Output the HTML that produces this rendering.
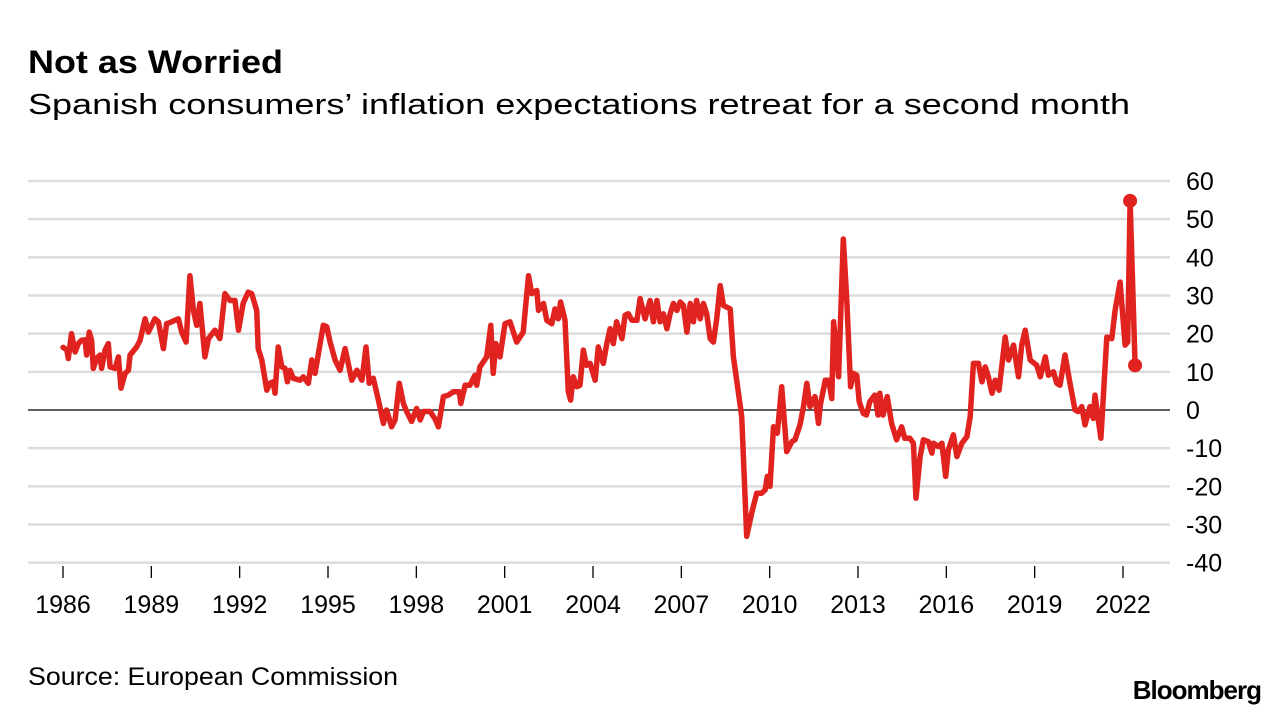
<!DOCTYPE html>
<html><head><meta charset="utf-8">
<style>
html,body{margin:0;padding:0;background:#fff;}
body{width:1288px;height:716px;overflow:hidden;font-family:"Liberation Sans",Arial,sans-serif;}
svg text{font-family:"Liberation Sans",Arial,sans-serif;}
</style></head>
<body>
<svg id="chart" width="1288" height="716" xmlns="http://www.w3.org/2000/svg">
<text x="28" y="73" font-size="32" font-weight="bold" fill="#000" textLength="255" lengthAdjust="spacingAndGlyphs">Not as Worried</text>
<text x="28" y="114" font-size="29" fill="#000" textLength="1102" lengthAdjust="spacingAndGlyphs">Spanish consumers’ inflation expectations retreat for a second month</text>
<g id="grid"></g>
<g id="yaxis"></g>
<g id="xaxis"></g>
<g id="series"></g>
<text x="28" y="685" font-size="25" fill="#000" textLength="370" lengthAdjust="spacingAndGlyphs">Source: European Commission</text>
<text x="1261" y="699" font-size="26" font-weight="bold" fill="#000" text-anchor="end" letter-spacing="-1">Bloomberg</text>
</svg>
<script>
const yTicks = [60,50,40,30,20,10,0,-10,-20,-30,-40];
const xTickYears = [1986,1989,1992,1995,1998,2001,2004,2007,2010,2013,2016,2019,2022];
const years = [1986.0,1986.13,1986.18,1986.29,1986.41,1986.52,1986.63,1986.75,1986.8,1986.89,1986.97,1987.03,1987.14,1987.26,1987.31,1987.43,1987.54,1987.6,1987.77,1987.88,1987.97,1988.11,1988.22,1988.28,1988.5,1988.62,1988.79,1988.9,1989.12,1989.24,1989.41,1989.52,1989.69,1989.8,1989.92,1990.03,1990.18,1990.31,1990.43,1990.54,1990.65,1990.82,1990.94,1991.16,1991.33,1991.5,1991.67,1991.84,1991.96,1992.12,1992.29,1992.41,1992.58,1992.63,1992.75,1992.92,1993.03,1993.14,1993.2,1993.31,1993.43,1993.54,1993.62,1993.71,1993.82,1994.05,1994.16,1994.33,1994.45,1994.56,1994.84,1994.96,1995.07,1995.24,1995.41,1995.58,1995.81,1995.98,1996.15,1996.29,1996.4,1996.54,1996.71,1996.88,1996.99,1997.16,1997.28,1997.42,1997.56,1997.67,1997.84,1998.01,1998.13,1998.24,1998.47,1998.64,1998.75,1998.92,1999.09,1999.26,1999.46,1999.51,1999.66,1999.82,1999.99,2000.05,2000.16,2000.39,2000.53,2000.61,2000.7,2000.84,2001.01,2001.18,2001.41,2001.63,2001.81,2001.92,2002.09,2002.15,2002.32,2002.43,2002.6,2002.71,2002.82,2002.9,2003.05,2003.16,2003.24,2003.33,2003.45,2003.56,2003.67,2003.78,2003.9,2004.07,2004.18,2004.35,2004.47,2004.58,2004.69,2004.8,2004.98,2005.09,2005.2,2005.32,2005.49,2005.6,2005.77,2005.94,2006.05,2006.17,2006.28,2006.39,2006.51,2006.62,2006.73,2006.85,2006.96,2007.07,2007.19,2007.3,2007.41,2007.52,2007.64,2007.75,2007.86,2007.98,2008.09,2008.2,2008.32,2008.43,2008.66,2008.77,2008.94,2009.05,2009.22,2009.39,2009.56,2009.73,2009.85,2009.92,2010.01,2010.13,2010.26,2010.41,2010.58,2010.75,2010.86,2011.03,2011.15,2011.26,2011.37,2011.54,2011.66,2011.72,2011.89,2012.0,2012.11,2012.17,2012.34,2012.5,2012.62,2012.75,2012.84,2012.96,2013.04,2013.18,2013.29,2013.4,2013.57,2013.68,2013.74,2013.85,2013.99,2014.14,2014.31,2014.48,2014.59,2014.76,2014.88,2014.97,2015.11,2015.22,2015.39,2015.51,2015.56,2015.73,2015.85,2015.98,2016.07,2016.24,2016.36,2016.53,2016.7,2016.81,2016.92,2017.09,2017.21,2017.32,2017.43,2017.55,2017.66,2017.79,2018.0,2018.11,2018.28,2018.45,2018.56,2018.68,2018.85,2019.07,2019.19,2019.36,2019.47,2019.64,2019.75,2019.86,2020.03,2020.2,2020.37,2020.48,2020.6,2020.71,2020.88,2020.99,2021.05,2021.16,2021.25,2021.45,2021.62,2021.73,2021.9,2022.07,2022.16,2022.24,2022.41];
const values = [16.4,15.8,13.5,20.0,15.2,17.4,18.3,18.4,14.4,20.4,18.3,10.9,13.5,14.4,10.9,15.7,17.4,11.3,10.9,13.9,5.7,9.6,10.4,14.4,16.5,18.3,23.9,20.4,23.9,23.1,16.1,22.6,23.1,23.5,23.9,20.4,17.8,35.2,26.1,22.2,27.9,13.9,18.7,20.9,18.7,30.5,28.7,28.7,20.9,28.0,30.9,30.5,26.1,16.1,13.1,5.2,7.0,7.4,4.4,16.5,11.3,10.9,7.4,10.4,8.3,7.8,8.7,7.0,13.1,9.6,22.2,21.8,17.8,13.1,10.4,16.1,7.8,10.4,7.8,16.5,7.0,8.3,2.6,-3.5,0,-4.4,-2.6,7.0,1.7,-0.4,-3.0,0.4,-2.6,-0.4,-0.4,-2.4,-4.4,3.5,3.9,4.8,4.8,1.7,6.5,6.5,9.1,6.5,11.3,13.9,22.2,9.6,17.4,13.9,22.6,23.1,17.8,20.4,35.2,30.5,31.3,26.1,27.9,23.5,22.6,26.5,23.9,28.3,23.5,4.8,2.6,8.7,6.1,6.5,15.7,11.7,12.2,7.8,16.5,12.2,17.4,21.3,17.4,23.1,18.7,24.8,25.2,23.5,23.5,29.2,23.9,28.7,23.1,28.7,23.1,25.2,21.3,25.2,27.9,26.1,28.3,27.4,20.4,27.9,23.1,28.7,23.9,27.9,25.2,18.7,17.8,23.9,32.6,27.4,26.5,13.9,4.4,-1.7,-33.1,-27.0,-21.8,-21.8,-20.9,-17.4,-20.0,-4.4,-6.1,6.1,-10.9,-8.3,-7.8,-3.9,0.9,7.0,0.9,3.5,-3.5,1.3,7.8,7.8,3.0,23.1,8.7,44.8,28.7,6.1,9.6,9.1,2.2,-0.9,-1.3,2.2,3.9,-1.3,4.4,-1.3,3.5,-3.5,-7.8,-4.4,-7.4,-7.4,-8.7,-23.1,-12.2,-7.8,-8.3,-11.3,-8.7,-9.6,-8.7,-17.4,-10.4,-6.5,-12.2,-8.7,-7.0,-1.7,12.2,12.2,7.4,11.3,8.7,4.4,7.8,5.2,19.1,13.1,17.0,8.7,17.0,20.9,13.1,11.7,8.7,13.9,9.1,10.0,7.0,6.5,14.4,7.0,0,-0.4,0.9,-3.9,0.9,-2.2,3.9,-2.6,-7.4,19.1,18.7,26.1,33.5,17.0,17.8,54.8,11.7];

const NS = "http://www.w3.org/2000/svg";
const X0 = 63, X1 = 1123, YR0 = 1986, YR1 = 2022;
const Y60 = 181, Y0 = 410;
function xScale(yr){ return X0 + (yr - YR0) * (X1 - X0) / (YR1 - YR0); }
function yScale(v){ return Y0 - v * (Y0 - Y60) / 60; }
function mk(tag, attrs, parent){ const e = document.createElementNS(NS, tag); for (const k in attrs) e.setAttribute(k, attrs[k]); parent.appendChild(e); return e; }

const grid = document.getElementById('grid');
const yax = document.getElementById('yaxis');
yTicks.forEach(t => {
  const y = yScale(t);
  const ln = mk('line', {x1:28, x2:1170, y1:y, y2:y, stroke: t === 0 ? '#000' : '#dcdcdc', 'stroke-width': t === 0 ? 1.3 : 2.5}, grid);
  
  
  const tx = mk('text', {x:1186, y:y + 9, 'font-size':25, fill:'#000'}, yax);
  tx.textContent = t;
  
  
});

const xax = document.getElementById('xaxis');
xTickYears.forEach(yr => {
  const x = xScale(yr);
  const tk = mk('line', {x1:x, x2:x, y1:566, y2:578, stroke:'#000', 'stroke-width':1.3}, xax);
  
  
  const tx = mk('text', {x:x, y:613, 'font-size':25, fill:'#000', 'text-anchor':'middle'}, xax);
  tx.textContent = yr;
  
  
});

const ser = document.getElementById('series');
const d = years.map((yr, i) => (i ? 'L' : 'M') + xScale(yr).toFixed(1) + ',' + yScale(values[i]).toFixed(1)).join(' ');
const path = mk('path', {d:d, fill:'none', stroke:'#e0231f', 'stroke-width':5.5, 'stroke-linejoin':'round', 'stroke-linecap':'round'}, ser);


const n = years.length;
[n - 2, n - 1].forEach(i => {
  const c = mk('circle', {cx:xScale(years[i]), cy:yScale(values[i]), r:7, fill:'#e0231f'}, ser);
  
  
});
</script>
</body></html>
